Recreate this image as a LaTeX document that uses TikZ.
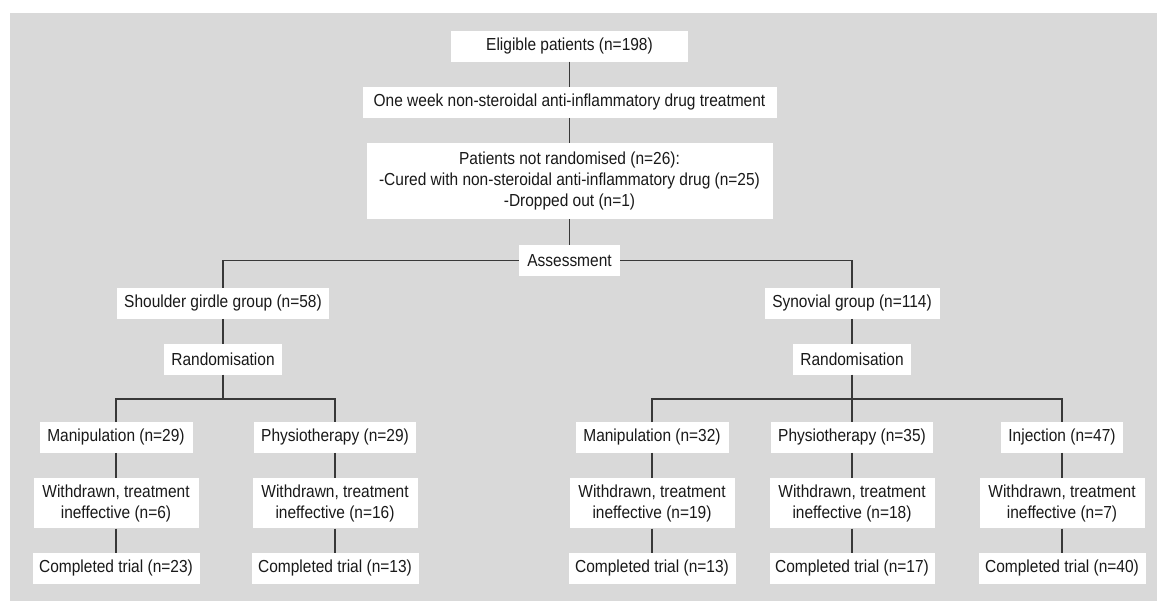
\documentclass[tikz,border=0pt]{standalone}
\usepackage{fontspec}
\setmainfont{Liberation Sans}[FakeStretch=0.89]
\begin{document}
\begin{tikzpicture}[x=1pt,y=-1pt,
  box/.style={fill=white, inner sep=0pt, minimum height=30.5pt, align=center, text=black!90,
    font=\fontsize{17.4}{21}\selectfont},
  conn/.style={draw=black!78, line width=1.1pt}]
\useasboundingbox (0,0) rectangle (1157,601);
\fill[white] (0,0) rectangle (1157,601);
\fill[black!15] (10,13) rectangle (1157,601);
% top chain
\node[box, minimum width=237pt] (elig) at (569.5,46.3) {Eligible patients (n=198)};
\node[box, minimum width=414pt] (week) at (569.5,102.5) {One week non-steroidal anti-inflammatory drug treatment};
\node[box, minimum width=406pt, minimum height=76pt] (pnr) at (569.5,181.3) {Patients not randomised (n=26):\\-Cured with non-steroidal anti-inflammatory drug (n=25)\\-Dropped out (n=1)};
\node[box, minimum width=101pt] (assess) at (569.5,260.5) {Assessment};
% groups
\node[box, minimum width=212pt] (shoulder) at (223,303.5) {Shoulder girdle group (n=58)};
\node[box, minimum width=175pt] (synovial) at (852,303.5) {Synovial group (n=114)};
\node[box, minimum width=118pt] (rand1) at (223,359.3) {Randomisation};
\node[box, minimum width=118pt] (rand2) at (852,359.3) {Randomisation};
\coordinate (s1) at (223,399);
\coordinate (s2) at (852,399);
% arms
\node[box, minimum width=153pt] (man1) at (116,437.5) {Manipulation (n=29)};
\node[box, minimum width=162pt] (phy1) at (335,437.5) {Physiotherapy (n=29)};
\node[box, minimum width=153pt] (man2) at (652,437.5) {Manipulation (n=32)};
\node[box, minimum width=162pt] (phy2) at (852,437.5) {Physiotherapy (n=35)};
\node[box, minimum width=122pt] (inj) at (1062,437.5) {Injection (n=47)};
% withdrawn
\node[box, minimum width=165pt, minimum height=50pt] (wd1) at (116,503.3) {Withdrawn, treatment\\ineffective (n=6)};
\node[box, minimum width=165pt, minimum height=50pt] (wd2) at (335,503.3) {Withdrawn, treatment\\ineffective (n=16)};
\node[box, minimum width=165pt, minimum height=50pt] (wd3) at (652,503.3) {Withdrawn, treatment\\ineffective (n=19)};
\node[box, minimum width=165pt, minimum height=50pt] (wd4) at (852,503.3) {Withdrawn, treatment\\ineffective (n=18)};
\node[box, minimum width=165pt, minimum height=50pt] (wd5) at (1062,503.3) {Withdrawn, treatment\\ineffective (n=7)};
% completed
\node[box, minimum width=167pt] (ct1) at (116,568.4) {Completed trial (n=23)};
\node[box, minimum width=167pt] (ct2) at (335,568.4) {Completed trial (n=13)};
\node[box, minimum width=167pt] (ct3) at (652,568.4) {Completed trial (n=13)};
\node[box, minimum width=165pt] (ct4) at (852,568.4) {Completed trial (n=17)};
\node[box, minimum width=167pt] (ct5) at (1062,568.4) {Completed trial (n=40)};
% connectors
\draw[conn] (elig) -- (week);
\draw[conn] (week) -- (pnr);
\draw[conn] (pnr) -- (assess);
\draw[conn] (assess.west) -| (shoulder.north);
\draw[conn] (assess.east) -| (synovial.north);
\draw[conn] (shoulder) -- (rand1);
\draw[conn] (synovial) -- (rand2);
\draw[conn] (rand1.south) -- (s1);
\draw[conn] (man1.north) |- (s1) -| (phy1.north);
\draw[conn] (rand2.south) -- (phy2.north);
\draw[conn] (man2.north) |- (s2) -| (inj.north);
\draw[conn] (man1) -- (wd1); \draw[conn] (wd1) -- (ct1);
\draw[conn] (phy1) -- (wd2); \draw[conn] (wd2) -- (ct2);
\draw[conn] (man2) -- (wd3); \draw[conn] (wd3) -- (ct3);
\draw[conn] (phy2) -- (wd4); \draw[conn] (wd4) -- (ct4);
\draw[conn] (inj) -- (wd5); \draw[conn] (wd5) -- (ct5);
\end{tikzpicture}
\end{document}
